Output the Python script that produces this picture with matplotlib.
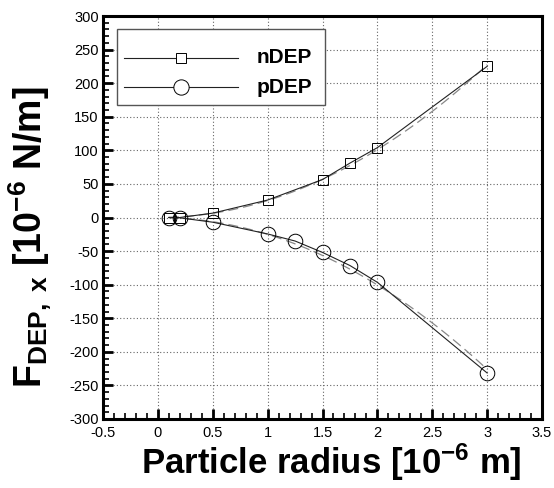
import numpy as np
import matplotlib
matplotlib.use("Agg")
import matplotlib.pyplot as plt
from matplotlib.ticker import MultipleLocator, FuncFormatter
from matplotlib.patches import Rectangle

plt.rcParams['font.family'] = ['Liberation Sans', 'DejaVu Sans']
plt.rcParams['mathtext.fontset'] = 'custom'
plt.rcParams['mathtext.bf'] = 'Liberation Sans:bold'
plt.rcParams['mathtext.rm'] = 'Liberation Sans'
plt.rcParams['mathtext.it'] = 'Liberation Sans:italic'

# Data
ndep_r = [0.1, 0.2, 0.5, 1.0, 1.5, 1.75, 2.0, 3.0]
ndep_f = [0.0, 0.0, 6.5, 26.0, 56.5, 81.0, 104.0, 225.0]
pdep_r = [0.1, 0.2, 0.5, 1.0, 1.25, 1.5, 1.75, 2.0, 3.0]
pdep_f = [0.0, -0.5, -7.0, -24.5, -35.0, -52.0, -71.5, -96.5, -231.5]
series_names = ["nDEP", "pDEP"]
series_markers = ["s", "o"]
series_ms = [7.5, 10.5]

fig = plt.figure(figsize=(5.54, 4.88), dpi=100)
ax = fig.add_axes([103/554, 1-419/488, 439/554, 403/488])

lc = '#222222'
fc = '#888888'

# dashed quadratic fits (F = a r^2) from the data
for r, f in ((ndep_r, ndep_f), (pdep_r, pdep_f)):
    r = np.asarray(r); f = np.asarray(f)
    a = np.sum(f * r**2) / np.sum(r**4)
    rr = np.linspace(0.1, 3.0, 100)
    ax.plot(rr, a * rr**2, ls=(0, (8, 4)), color=fc, lw=0.9, zorder=3)

for (r, f), m, ms in zip(((ndep_r, ndep_f), (pdep_r, pdep_f)), series_markers, series_ms):
    ax.plot(r, f, '-', color=lc, lw=0.8, marker=m, ms=ms,
            mfc='none', mec='black', mew=0.7, zorder=4)

ax.set_xlim(-0.5, 3.5)
ax.set_ylim(-300, 300)
ax.xaxis.set_major_locator(MultipleLocator(0.5))
ax.xaxis.set_minor_locator(MultipleLocator(0.1))
ax.yaxis.set_major_locator(MultipleLocator(50))
ax.yaxis.set_minor_locator(MultipleLocator(10))

def fmt(v, pos):
    return '%g' % v
ax.xaxis.set_major_formatter(FuncFormatter(fmt))
ax.yaxis.set_major_formatter(FuncFormatter(fmt))

ax.tick_params(which='both', direction='in', top=False, right=False,
               labelsize=10.5, colors='black')
ax.tick_params(which='major', length=7, width=2)
ax.tick_params(which='minor', length=4, width=1.2)
ax.tick_params(axis='x', pad=5)
ax.tick_params(axis='y', pad=3)

ax.grid(True, which='major', ls=(0, (1, 2)), color='#666666', lw=0.8)
for sp in ax.spines.values():
    sp.set_linewidth(2.2)
    sp.set_color('black')

ax.set_xlabel(r'$\mathbf{Particle\ radius\ [10^{-6}\ m]}$', fontsize=25)
ax.xaxis.set_label_coords(0.519, -0.056)
ax.set_ylabel(r'$\mathbf{F_{DEP,\ x}\ [10^{-6}\ N/m]}$', fontsize=27)
ax.yaxis.set_label_coords(-0.112, 0.45)

# legend (drawn manually to match the boxed layout)
def axx(px):
    return (px - 103) / 439
def axy(py):
    return (419 - py) / 403

ax.add_patch(Rectangle((axx(117), axy(105)), axx(325) - axx(117), axy(29) - axy(105),
                       transform=ax.transAxes, facecolor='white', edgecolor='#555555',
                       lw=1.0, zorder=5, clip_on=False))
for i, (name, m, ms) in enumerate(zip(series_names, series_markers, [7.5, 11])):
    yy = axy(57.7 + i * 29.6)
    ax.plot([axx(124), axx(238)], [yy, yy], '-', color=lc, lw=0.8,
            transform=ax.transAxes, zorder=6, clip_on=False)
    ax.plot([axx(181)], [yy], marker=m, ms=ms, mfc='white', mec='black', mew=0.7,
            ls='none', transform=ax.transAxes, zorder=7, clip_on=False)
    ax.text(axx(257), yy, name, transform=ax.transAxes, fontsize=15, fontweight='bold',
            va='center', ha='left', zorder=7)

fig.savefig('out.png', dpi=100)
